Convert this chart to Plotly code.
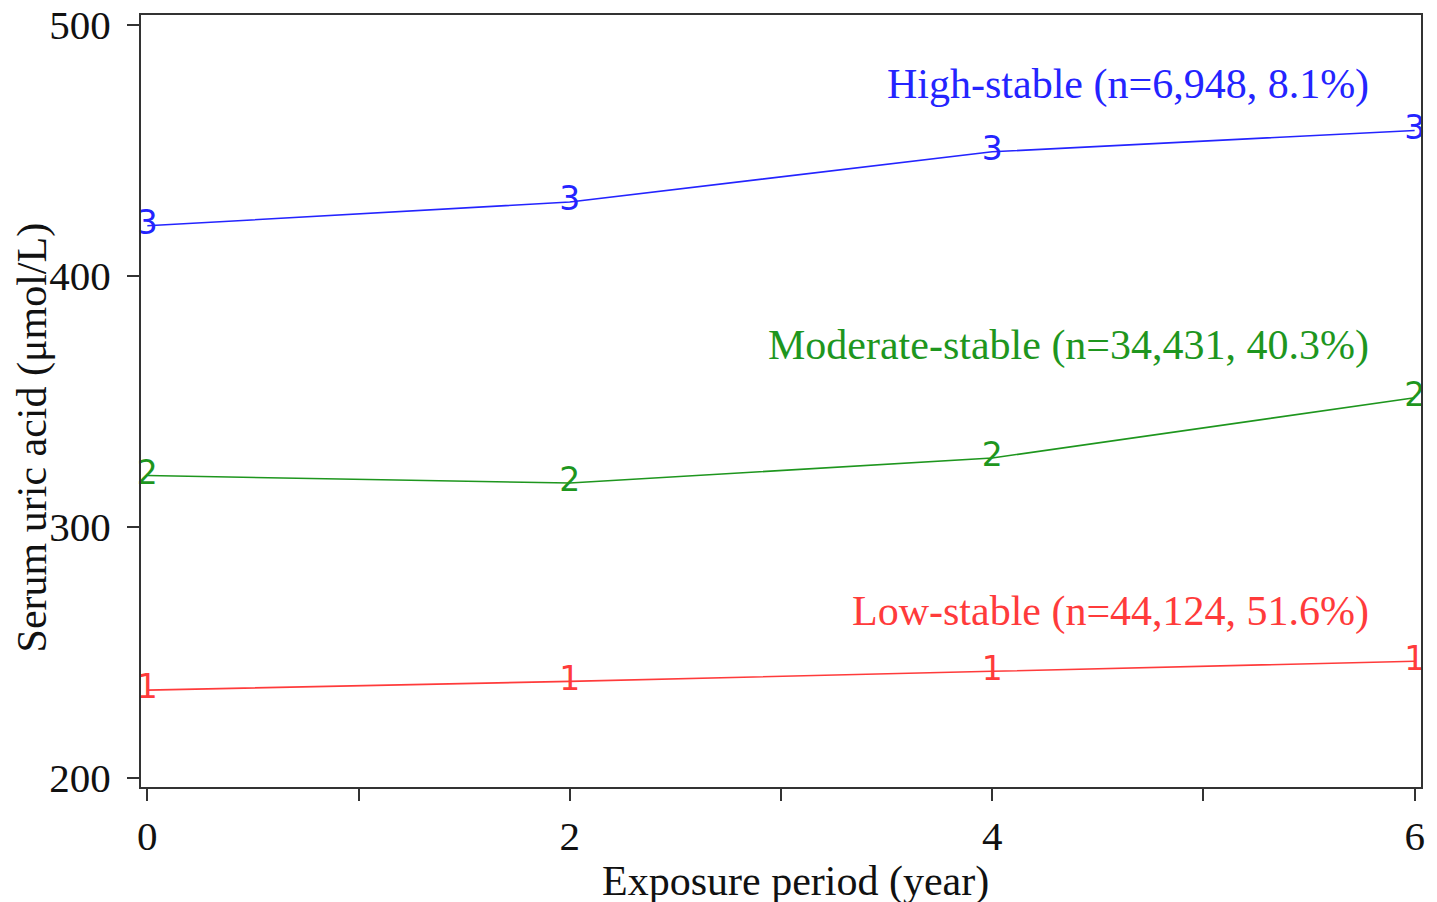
import plotly.graph_objects as go

years = [0, 2, 4, 6]
high_stable = [420, 429.5, 449.5, 458]
moderate_stable = [320.5, 317.5, 327.5, 351.5]
low_stable = [235, 238.5, 242.5, 246.5]

series = [
    ("Low-stable (n=44,124, 51.6%)", low_stable, "1", "#FF3B3B", 266.5),
    ("Moderate-stable (n=34,431, 40.3%)", moderate_stable, "2", "#1E961E", 372.5),
    ("High-stable (n=6,948, 8.1%)", high_stable, "3", "#2424FF", 476.3),
]

x_tickvals = [0, 1, 2, 3, 4, 5, 6]
x_ticktext = ["0", "", "2", "", "4", "", "6"]
y_tickvals = [200, 300, 400, 500]

serif = "Liberation Serif"
fig = go.Figure()
annotations = []
for name, vals, mark, color, label_y in series:
    fig.add_trace(go.Scatter(
        x=years, y=vals, mode="lines+text", name=name,
        text=[mark] * len(years), textposition="middle center",
        textfont=dict(family="DejaVu Sans", size=33, color=color),
        line=dict(color=color, width=1.6), showlegend=False,
        cliponaxis=False,
    ))
    annotations.append(dict(
        x=5.795, y=label_y, xref="x", yref="y", text=name, showarrow=False,
        xanchor="right", yanchor="middle",
        font=dict(family=serif, size=42, color=color),
    ))

annotations.append(dict(
    x=0.5117, y=-0.1229, xref="paper", yref="paper",
    text="Exposure period (year)", showarrow=False,
    xanchor="center", yanchor="middle",
    font=dict(family=serif, size=42, color="#111"),
))
annotations.append(dict(
    x=-0.0852, y=0.4528, xref="paper", yref="paper",
    text="Serum uric acid (μmol/L)", showarrow=False, textangle=-90,
    xanchor="center", yanchor="middle",
    font=dict(family=serif, size=42, color="#111"),
))

fig.update_layout(
    width=1437, height=902,
    margin=dict(l=133, r=24, t=7, b=123),
    plot_bgcolor="white", paper_bgcolor="white",
    annotations=annotations,
    font=dict(family=serif, color="#111", size=41),
    xaxis=dict(
        range=[-0.03, 6.03], tickvals=x_tickvals, ticktext=x_ticktext,
        showgrid=False, zeroline=False, showline=True, mirror=True,
        linecolor="#333", linewidth=2, ticks="outside", ticklen=12,
        tickwidth=2, tickcolor="#333", automargin=False,
        tickfont=dict(family=serif, size=41, color="#111"),
    ),
    yaxis=dict(
        range=[196.4, 504], tickvals=y_tickvals,
        showgrid=False, zeroline=False, showline=True, mirror=True,
        linecolor="#333", linewidth=2, ticks="outside", ticklen=12,
        tickwidth=2, tickcolor="#333", ticklabeloverflow="allow",
        ticklabelstandoff=8, automargin=False,
        tickfont=dict(family=serif, size=41, color="#111"),
    ),
)

fig.write_html("out.html")
